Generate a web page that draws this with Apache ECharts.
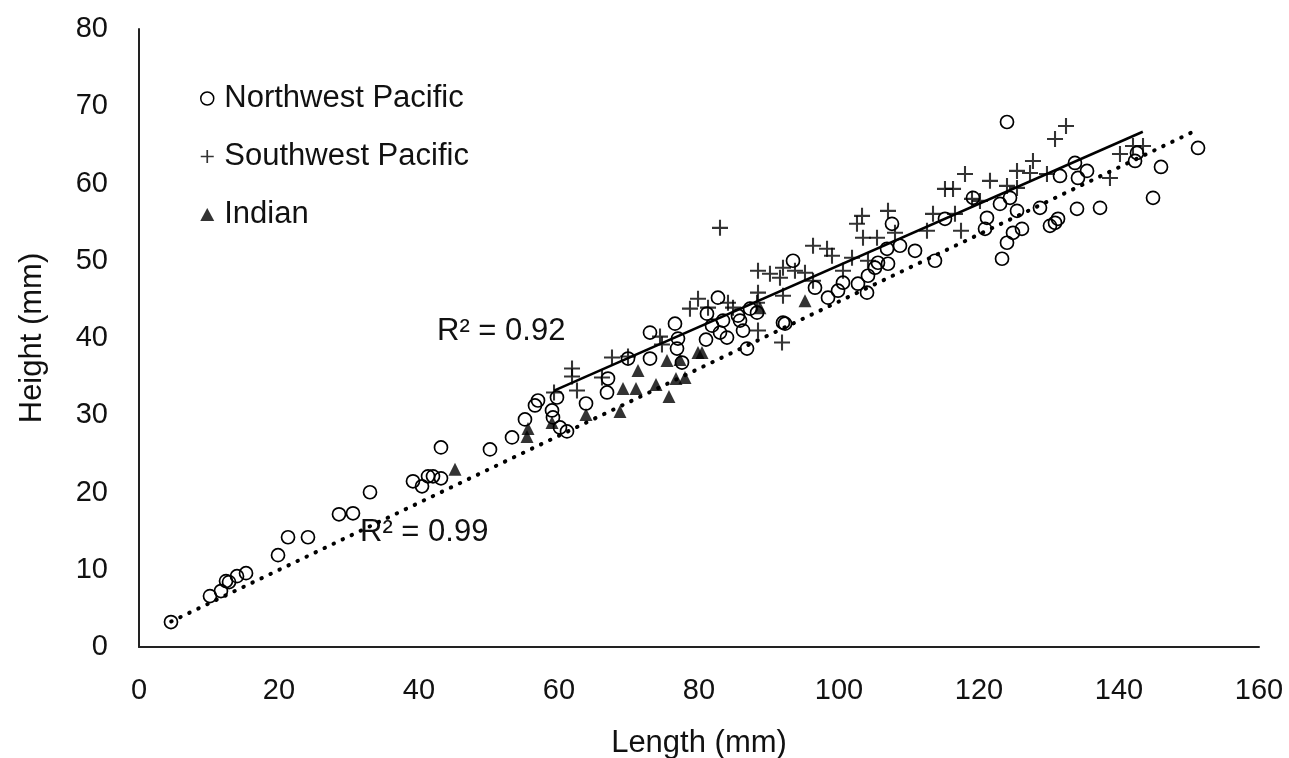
<!DOCTYPE html>
<html>
<head>
<meta charset="utf-8">
<script src="https://cdn.jsdelivr.net/npm/echarts@6/dist/echarts.min.js"></script>
<style>
html,body{margin:0;padding:0;background:#fff;}
#chart{width:1289px;height:758px;}
</style>
</head>
<body>
<div id="chart"></div>
<script>
// ---- Data ----
const seriesNames = ['Northwest Pacific', 'Southwest Pacific', 'Indian'];
const xTicks = [0, 20, 40, 60, 80, 100, 120, 140, 160];
const yTicks = [0, 10, 20, 30, 40, 50, 60, 70, 80];

const northwestPacific = [
  [4.57,3.23],[10.14,6.59],[11.71,7.24],[12.43,8.53],[12.86,8.40],[14.0,9.17],[15.29,9.56],
  [19.86,11.89],[21.29,14.21],[24.14,14.21],[28.57,17.18],[30.57,17.31],[33.0,20.03],
  [39.14,21.45],[40.43,20.80],[41.29,22.09],[42.0,22.09],[43.14,21.83],[43.14,25.84],
  [50.14,25.58],[53.29,27.13],[55.14,29.46],[56.57,31.27],[57.0,31.91],[59.71,32.30],
  [59.0,30.62],[59.14,29.72],[60.14,28.42],[61.14,27.91],[63.86,31.52],[67.0,34.75],
  [66.86,32.95],[69.86,37.34],[73.0,40.70],[73.0,37.34],[76.57,41.86],[77.0,39.92],
  [76.86,38.63],[77.57,36.82],[81.14,43.15],[81.0,39.79],[82.71,45.22],[81.86,41.60],
  [83.43,42.25],[83.0,40.70],[84.0,40.05],[85.86,42.25],[87.29,43.80],[88.29,43.28],
  [86.29,40.96],[86.86,38.63],[92.0,41.99],[92.29,41.86],[85.57,42.89],[93.43,50.0],
  [96.57,46.51],[98.43,45.22],[99.86,46.12],[100.57,47.16],[102.71,47.03],[104.0,45.87],
  [104.14,48.06],[105.14,49.10],[105.57,49.74],[107.0,49.61],[106.86,51.55],[107.57,54.78],
  [108.71,51.94],[110.86,51.29],[113.71,50.0],[115.14,55.43],[119.14,58.14],[121.14,55.56],
  [120.86,54.13],[123.0,57.36],[124.43,58.14],[125.43,56.46],[126.14,54.13],[124.86,53.62],
  [124.0,52.33],[123.29,50.26],[124.0,67.96],[128.71,56.85],[130.14,54.52],[130.86,54.91],
  [131.29,55.43],[131.57,60.98],[133.71,62.66],[134.14,60.72],[135.43,61.63],[134.0,56.72],
  [137.29,56.85],[142.57,63.95],[142.29,62.92],[144.86,58.14],[146.0,62.14],[151.29,64.60]
];

const southwestPacific = [
  [59.29,32.95],[61.86,36.05],[61.86,35.01],[62.57,33.20],[66.14,34.88],[67.57,37.47],
  [69.86,37.60],[74.43,40.18],[74.71,39.15],[78.71,43.80],[79.86,45.09],[81.29,43.93],
  [83.0,54.26],[84.14,44.57],[84.86,43.93],[88.29,44.57],[88.43,48.71],[88.43,45.87],
  [88.43,40.96],[90.14,48.32],[91.57,47.80],[92.0,49.10],[92.0,45.48],[91.86,39.41],
  [93.71,48.71],[95.14,48.45],[96.29,47.42],[96.29,51.94],[98.29,51.55],[99.0,50.65],
  [100.57,48.71],[101.86,50.39],[102.57,54.78],[103.29,55.81],[103.43,52.97],[104.14,50.0],
  [105.43,52.97],[107.0,56.46],[108.0,53.62],[112.57,53.88],[113.43,56.07],[116.57,56.07],
  [117.43,53.88],[115.14,59.30],[116.29,59.30],[118.0,61.24],[119.0,58.01],[120.14,57.75],
  [121.57,60.34],[124.0,59.69],[125.43,59.43],[125.43,61.63],[127.29,61.37],[127.71,62.92],
  [129.71,61.24],[130.86,65.76],[132.43,67.44],[138.71,60.72],[140.14,63.82],[142.0,64.86],
  [143.43,64.86]
];

const indian = [
  [45.14,23.0],[55.43,27.26],[55.57,28.29],[59.0,29.07],[63.86,30.10],[68.71,30.49],
  [69.14,33.46],[71.0,33.46],[71.29,35.79],[73.86,33.98],[75.71,32.43],[75.43,37.08],
  [77.29,37.21],[76.71,34.75],[78.0,34.88],[79.86,38.11],[80.43,38.11],[88.71,43.93],
  [95.14,44.83]
];

// Trendline end points
const trendNorthwest = [[4.6,3.3],[150.6,66.7]];
const trendSouthwest = [[59.3,33.2],[143.4,66.7]];
const r2Labels = ['R² = 0.92', 'R² = 0.99'];

// ---- Chart ----
const FONT = '"Liberation Sans", Arial, sans-serif';
const TXT = '#111';
const PLUS = 'path://M4.35,0h1.3v4.35h4.35v1.3h-4.35v4.35h-1.3v-4.35h-4.35v-1.3h4.35z';

const chart = echarts.init(document.getElementById('chart'), null, {renderer: 'canvas'});
const option = {
  animation: false,
  backgroundColor: '#fff',
  textStyle: {fontFamily: FONT, color: TXT},
  grid: {left: 139, right: 30, top: 29, bottom: 111, containLabel: false, outerBoundsMode: 'none'},
  legend: {
    orient: 'vertical',
    left: 195, top: 77,
    itemWidth: 14, itemHeight: 13,
    itemGap: 25,
    textStyle: {fontSize: 31, color: TXT, fontFamily: FONT, padding: [0,0,0,5], lineHeight: 33},
    data: [
      {name: seriesNames[0], icon: 'circle', itemStyle: {borderWidth: 1.5}},
      {name: seriesNames[1], icon: PLUS},
      {name: seriesNames[2], icon: 'triangle'}
    ]
  },
  xAxis: {
    type: 'value', min: xTicks[0], max: xTicks[xTicks.length-1], interval: xTicks[1]-xTicks[0],
    name: 'Length (mm)', nameLocation: 'middle', nameGap: 81,
    nameTextStyle: {fontSize: 31, color: TXT, fontFamily: FONT},
    axisLine: {show: true, lineStyle: {color: '#222', width: 2}},
    axisTick: {show: false},
    splitLine: {show: false},
    axisLabel: {fontSize: 29, color: TXT, margin: 29, fontFamily: FONT}
  },
  yAxis: {
    type: 'value', min: yTicks[0], max: yTicks[yTicks.length-1], interval: yTicks[1]-yTicks[0],
    name: 'Height (mm)', nameLocation: 'middle', nameGap: 91, nameRotate: 90,
    nameTextStyle: {fontSize: 31, color: TXT, fontFamily: FONT},
    axisLine: {show: true, lineStyle: {color: '#222', width: 2}},
    axisTick: {show: false},
    splitLine: {show: false},
    axisLabel: {fontSize: 29, color: TXT, margin: 31, fontFamily: FONT}
  },
  series: [
    {
      name: seriesNames[0], type: 'scatter', data: northwestPacific,
      symbol: 'circle', symbolSize: 13, z: 3,
      itemStyle: {color: 'rgba(255,255,255,0)', borderColor: '#000', borderWidth: 1.7, opacity: 1}
    },
    {
      name: seriesNames[1], type: 'scatter', data: southwestPacific,
      symbol: PLUS, symbolSize: 16, z: 3,
      itemStyle: {color: '#000'}
    },
    {
      name: seriesNames[2], type: 'scatter', data: indian,
      symbol: 'triangle', symbolSize: 13, z: 3,
      itemStyle: {color: '#000'}
    },
    {
      name: 'trendNW', type: 'line', data: trendNorthwest, showSymbol: false, symbol: 'none',
      silent: true, z: 2,
      lineStyle: {color: '#000', width: 4, type: [0.5, 9.5], cap: 'round'}
    },
    {
      name: 'trendSW', type: 'line', data: trendSouthwest, showSymbol: false, symbol: 'none',
      silent: true, z: 2,
      lineStyle: {color: '#000', width: 2.5, type: 'solid'}
    }
  ],
  graphic: [
    {type: 'text', left: 437, top: 316, style: {text: r2Labels[0], font: '31px ' + FONT, fill: TXT}},
    {type: 'text', left: 360, top: 517, style: {text: r2Labels[1], font: '31px ' + FONT, fill: TXT}}
  ]
};
chart.setOption(option);
</script>
</body>
</html>
